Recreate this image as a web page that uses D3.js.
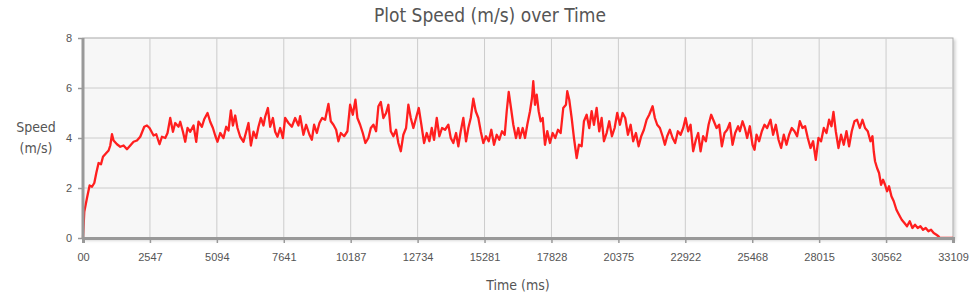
<!DOCTYPE html>
<html>
<head>
<meta charset="utf-8">
<script src="https://cdn.jsdelivr.net/npm/d3@7"></script>
<style>
  body { margin: 0; background: #fff; }
  svg { font-family: "DejaVu Sans Condensed", "DejaVu Sans", sans-serif; }
  .grid line { stroke: #cccccc; stroke-width: 1; }
  .axis text { fill: #555; font-size: 11px; }
</style>
</head>
<body>
<svg width="980" height="298"></svg>
<script>
// time of each sample (ms)
var timeMs = [0, 49, 152, 251, 342, 430, 506, 593, 685, 761, 886, 974, 1038, 1103, 1164, 1293, 1419, 1544, 1673, 1799,
  1924, 2054, 2179, 2331, 2434, 2533, 2685, 2788, 2913, 3004, 3130, 3217, 3320, 3423, 3510, 3636, 3700, 3803, 3890, 3978,
  4081, 4206, 4309, 4396, 4526, 4613, 4739, 4841, 4944, 5031, 5119, 5222, 5347, 5450, 5537, 5628, 5705, 5792, 5879, 5982,
  6108, 6210, 6298, 6389, 6488, 6591, 6678, 6769, 6868, 6933, 7036, 7123, 7226, 7313, 7401, 7503, 7606, 7693, 7819, 7948,
  8074, 8199, 8264, 8389, 8492, 8618, 8709, 8796, 8899, 8998, 9101, 9215, 9340, 9431, 9530, 9633, 9720, 9812, 9937, 10063,
  10165, 10268, 10367, 10443, 10546, 10648, 10747, 10861, 10953, 11052, 11154, 11242, 11333, 11432, 11535, 11622, 11713, 11812, 11915, 12002,
  12094, 12192, 12295, 12382, 12474, 12573, 12675, 12778, 12877, 12980, 13082, 13181, 13272, 13360, 13463, 13562, 13664, 13778, 13904, 13995,
  14094, 14197, 14284, 14375, 14474, 14577, 14664, 14756, 14854, 14946, 15045, 15136, 15235, 15338, 15440, 15539, 15642, 15744, 15843, 15946,
  16049, 16125, 16201, 16288, 16376, 16478, 16566, 16631, 16733, 16821, 16908, 17011, 17087, 17136, 17201, 17266, 17342, 17418, 17494, 17581,
  17669, 17771, 17874, 17973, 18075, 18178, 18277, 18380, 18429, 18505, 18597, 18684, 18787, 18874, 18977, 19064, 19167, 19266, 19357, 19445,
  19547, 19646, 19738, 19825, 19928, 20027, 20129, 20232, 20331, 20434, 20536, 20635, 20738, 20840, 20939, 21042, 21145, 21244, 21346, 21449,
  21548, 21677, 21764, 21852, 21955, 22057, 22145, 22232, 22335, 22438, 22536, 22639, 22742, 22841, 22932, 23031, 23122, 23221, 23324, 23411,
  23503, 23601, 23704, 23807, 23906, 24008, 24111, 24210, 24313, 24415, 24514, 24617, 24720, 24819, 24932, 24997, 25100, 25187, 25275, 25377,
  25480, 25556, 25632, 25731, 25834, 25936, 26035, 26165, 26263, 26366, 26469, 26568, 26670, 26773, 26872, 26974, 27077, 27176, 27279, 27382,
  27481, 27583, 27686, 27785, 27887, 27990, 28089, 28192, 28294, 28393, 28484, 28560, 28648, 28751, 28849, 28952, 29055, 29154, 29256, 29359,
  29458, 29561, 29663, 29762, 29865, 29968, 30044, 30093, 30142, 30219, 30295, 30371, 30447, 30523, 30599, 30675, 30766, 30854, 30956, 31055,
  31158, 31261, 31359, 31462, 31565, 31664, 31767, 31869, 31968, 32071, 32174, 32273, 32375, 32478, 32554, 32603, 33109];

// speed at each sample (m/s)
var speed = [0, 1.05, 1.6, 2.1, 2.05, 2.2, 2.6, 3.0, 2.95, 3.25, 3.4, 3.5, 3.7, 4.15, 3.9, 3.75, 3.65, 3.7, 3.55, 3.7,
  3.85, 3.9, 4.05, 4.45, 4.5, 4.4, 4.1, 4.15, 3.75, 4.05, 4.0, 4.2, 4.8, 4.25, 4.6, 4.45, 4.65, 4.25, 3.85, 4.4,
  4.25, 4.5, 3.85, 4.65, 4.45, 4.75, 5.0, 4.65, 4.4, 4.1, 3.85, 4.2, 4.0, 4.45, 4.3, 5.1, 4.5, 4.9, 4.4, 4.05,
  3.85, 4.25, 4.6, 3.7, 4.25, 4.0, 4.45, 4.8, 4.5, 4.85, 5.2, 4.45, 4.8, 4.25, 4.05, 4.4, 4.0, 4.8, 4.6, 4.45,
  4.8, 4.5, 4.87, 4.13, 4.53, 4.13, 3.93, 4.53, 4.2, 4.6, 4.8, 4.73, 5.36, 4.67, 4.53, 4.33, 3.87, 4.2, 4.07, 4.27,
  5.33, 4.93, 5.53, 4.8, 4.53, 4.2, 3.8, 4.0, 4.4, 4.53, 4.27, 5.27, 5.44, 4.8, 5.0, 5.33, 4.27, 4.07, 4.33, 3.8,
  3.47, 4.13, 4.4, 5.33, 4.8, 4.4, 4.8, 5.2, 4.53, 3.8, 4.2, 3.87, 4.4, 3.93, 4.8, 4.07, 4.4, 4.33, 4.53, 4.0,
  3.8, 4.2, 3.67, 4.27, 4.8, 3.87, 4.4, 4.8, 5.57, 5.07, 4.8, 4.27, 3.8, 4.07, 3.87, 4.33, 3.73, 4.13, 3.93, 4.27,
  4.13, 5.07, 5.84, 5.2, 4.53, 4.0, 4.4, 4.0, 4.4, 4.0, 4.53, 5.07, 5.6, 6.27, 5.33, 5.73, 5.07, 4.67, 4.8, 3.73,
  4.27, 3.8, 4.2, 4.0, 4.33, 4.2, 5.2, 5.33, 5.87, 5.53, 4.8, 4.0, 3.2, 3.73, 3.67, 4.67, 4.93, 4.4, 5.07, 4.53,
  5.2, 4.27, 4.8, 3.87, 4.2, 4.67, 4.07, 4.4, 5.0, 4.53, 5.0, 4.8, 4.13, 4.53, 3.87, 4.2, 3.67, 4.07, 4.33, 4.73,
  4.93, 5.27, 4.8, 4.53, 4.4, 4.07, 3.73, 4.07, 4.33, 4.0, 3.8, 4.27, 4.13, 4.4, 4.8, 4.27, 4.53, 3.47, 3.93, 4.2,
  3.47, 4.07, 3.87, 4.53, 4.93, 4.67, 4.4, 4.53, 3.67, 4.2, 4.33, 4.6, 3.73, 4.2, 4.47, 4.27, 4.67, 4.4, 4.0, 4.47,
  3.73, 3.53, 4.13, 3.87, 4.27, 4.53, 4.4, 4.73, 4.13, 4.53, 3.93, 3.6, 4.13, 3.73, 4.13, 4.4, 4.27, 4.07, 4.67, 4.4,
  4.47, 4.0, 3.6, 3.87, 3.13, 4.0, 3.87, 4.4, 4.2, 4.73, 4.47, 5.04, 4.27, 3.6, 4.13, 3.73, 4.27, 3.67, 4.27, 4.67,
  4.73, 4.4, 4.73, 4.4, 4.27, 3.87, 4.07, 3.47, 3.07, 2.8, 2.6, 2.13, 2.33, 2.13, 1.87, 2.07, 1.67, 1.47, 1.13, 0.93,
  0.73, 0.6, 0.47, 0.67, 0.4, 0.53, 0.4, 0.47, 0.33, 0.4, 0.27, 0.33, 0.2, 0.13, 0.07, 0, 0];

var xTickValues = [0, 2547, 5094, 7641, 10187, 12734, 15281, 17828, 20375, 22922, 25468, 28015, 30562, 33109];
var xTickLabels = ["00", "2547", "5094", "7641", "10187", "12734", "15281", "17828", "20375", "22922", "25468", "28015", "30562", "33109"];
var yTickValues = [0, 2, 4, 6, 8];

var data = timeMs.map(function(t, i) { return { t: t, v: speed[i] }; });

var svg = d3.select("svg"),
    margin = { top: 38, right: 27, bottom: 60, left: 83 },
    width = svg.attr("width") - margin.left - margin.right,
    height = svg.attr("height") - margin.top - margin.bottom;

var x = d3.scaleLinear().domain([0, 33109]).range([0, width]);
var y = d3.scaleLinear().domain([0, 8]).range([height, 0]);

var defs = svg.append("defs");
var shadow = defs.append("filter").attr("id", "shadow")
    .attr("x", "-5%").attr("y", "-5%").attr("width", "110%").attr("height", "115%");
shadow.append("feDropShadow").attr("dx", 2).attr("dy", 2).attr("stdDeviation", 1.5)
    .attr("flood-color", "#000").attr("flood-opacity", 0.18);

var g = svg.append("g")
    .attr("transform", "translate(" + margin.left + "," + margin.top + ")");

// plot background + frame
g.append("rect")
    .attr("width", width).attr("height", height)
    .attr("fill", "#f7f7f7")
    .attr("stroke", "#aaa").attr("stroke-width", 1)
    .attr("filter", "url(#shadow)");

// grid
g.append("g").attr("class", "grid")
    .selectAll("line").data(xTickValues.slice(1, -1)).enter().append("line")
    .attr("x1", function(d) { return x(d); }).attr("x2", function(d) { return x(d); })
    .attr("y1", 0).attr("y2", height);

g.append("g").attr("class", "grid")
    .selectAll("line").data(yTickValues.slice(1, -1)).enter().append("line")
    .attr("x1", 0).attr("x2", width)
    .attr("y1", function(d) { return y(d); }).attr("y2", function(d) { return y(d); });

// speed line
var line = d3.line()
    .x(function(d) { return x(d.t); })
    .y(function(d) { return y(d.v); });

g.append("path")
    .datum(data)
    .attr("fill", "none")
    .attr("stroke", "#ff1f1f")
    .attr("stroke-width", 2.3)
    .attr("stroke-linejoin", "round")
    .attr("d", line);

// axes
var xAxis = g.append("g")
    .attr("class", "axis")
    .attr("transform", "translate(0," + height + ")")
    .call(d3.axisBottom(x).tickValues(xTickValues)
        .tickFormat(function(d, i) { return xTickLabels[i]; })
        .tickSize(5).tickPadding(10));

var yAxis = g.append("g")
    .attr("class", "axis")
    .call(d3.axisLeft(y).tickValues(yTickValues).tickSize(5).tickPadding(6));

[xAxis, yAxis].forEach(function(a) {
    a.select(".domain").attr("stroke", "#999").attr("stroke-width", 3);
    a.selectAll(".tick line").attr("stroke", "#999").attr("stroke-width", 1.5);
});
yAxis.select(".domain").attr("d", "M0," + (height + 1) + "V0");

// titles
svg.append("text")
    .attr("x", 490).attr("y", 22)
    .attr("text-anchor", "middle")
    .attr("fill", "#555").attr("font-size", 19)
    .text("Plot Speed (m/s) over Time");

svg.append("text")
    .attr("x", margin.left + width / 2).attr("y", 290)
    .attr("text-anchor", "middle")
    .attr("fill", "#555").attr("font-size", 14)
    .text("Time (ms)");

var yl = svg.append("text")
    .attr("text-anchor", "middle")
    .attr("fill", "#555").attr("font-size", 14);
yl.append("tspan").attr("x", 36).attr("y", 132).text("Speed");
yl.append("tspan").attr("x", 36).attr("y", 153).text("(m/s)");
</script>
</body>
</html>
